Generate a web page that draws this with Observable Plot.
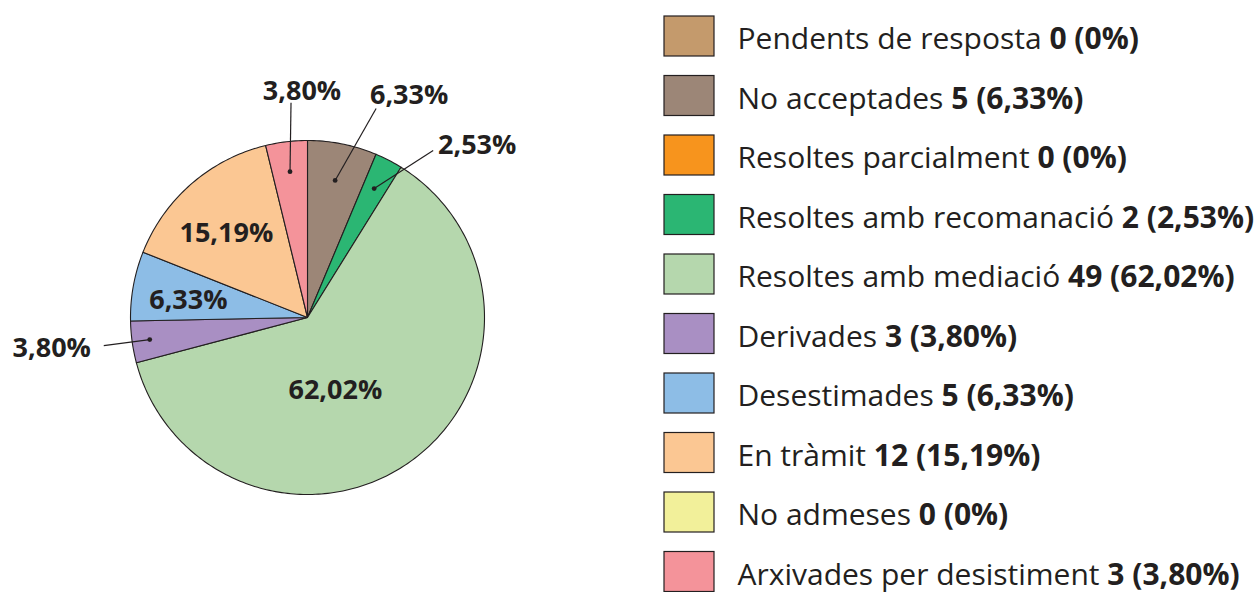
<!DOCTYPE html>
<html><head><meta charset="utf-8">
<script src="https://cdn.jsdelivr.net/npm/d3@7"></script>
<script src="https://cdn.jsdelivr.net/npm/@observablehq/plot@0.6"></script>
<style>
html,body{margin:0;padding:0;background:#fff;}
#chart svg{display:block;}
</style>
</head><body><div id="chart"></div>
<script>
// ---- data ----
const categories = ["Pendents de resposta","No acceptades","Resoltes parcialment","Resoltes amb recomanació","Resoltes amb mediació","Derivades","Desestimades","En tràmit","No admeses","Arxivades per desistiment"];
const counts = [0, 5, 0, 2, 49, 3, 5, 12, 0, 3];
const percentLabels = ["0%","6,33%","0%","2,53%","62,02%","3,80%","6,33%","15,19%","0%","3,80%"];
const colors = ["#C49A6C","#9C8677","#F7941D","#2BB673","#B5D7AD","#A98FC3","#8DBDE6","#FBC793","#F2F09A","#F4939A"];

// ---- layout ----
const W = 1258, H = 592;
const FONT = "'Open Sans', Lato, sans-serif";
const INK = "#231F20";
const pieLayout = {cx: 307, cy: 317, r: 177};
const legendLayout = {x: 664, sw: 50, sh: 40, top: 16, step: 59.5, textX: 737, baseline: 48.5, fontSize: 30};
const pieLabelSize = 27;
// label placement per category index (relative to slice mid-angle)
const labelLayout = {
  1: {type: "out", dotR: 0.79, end: [41, -72], text: [74, -85]},
  3: {type: "out", dotR: 0.82, end: [59, -38], text: [103, -43]},
  4: {type: "in", r: 0.44, shift: 15.5},
  5: {type: "out", dotR: 0.90, end: [-46, 6], text: [-98, 9]},
  6: {type: "in", r: 0.68, shift: -2},
  7: {type: "in", r: 0.66, shift: -3},
  9: {type: "out", dotR: 0.83, end: [1, -69], text: [12, -80]}
};

const rows = categories.map((c, i) => ({i, category: c, count: counts[i], pct: percentLabels[i]}));
const arcs = d3.pie().sort(null).value(d => d.count)(rows);

const polar = (a, rr) => [pieLayout.cx + rr * Math.sin(a), pieLayout.cy - rr * Math.cos(a)];

// slice outlines (points along each arc)
const slicePts = [];
arcs.filter(a => a.data.count > 0).forEach(a => {
  const n = Math.max(2, Math.ceil((a.endAngle - a.startAngle) * 180 / Math.PI));
  const c = polar(0, 0);
  slicePts.push({category: a.data.category, x: c[0], y: c[1]});
  for (let k = 0; k <= n; k++) {
    const t = a.startAngle + (a.endAngle - a.startAngle) * k / n;
    const p = polar(t, pieLayout.r);
    slicePts.push({category: a.data.category, x: p[0], y: p[1]});
  }
  slicePts.push({category: a.data.category, x: c[0], y: c[1]});
});

// labels
const inLabels = [], outLabels = [], leaders = [], dots = [];
arcs.forEach(a => {
  const L = labelLayout[a.data.i];
  if (!L || a.data.count === 0) return;
  const mid = (a.startAngle + a.endAngle) / 2;
  if (L.type === "in") {
    const p = polar(mid + L.shift * Math.PI / 180, L.r * pieLayout.r);
    inLabels.push({x: p[0], y: p[1], text: a.data.pct});
  } else {
    const d = polar(mid, L.dotR * pieLayout.r);
    dots.push({x: d[0], y: d[1]});
    leaders.push({x1: d[0], y1: d[1], x2: d[0] + L.end[0], y2: d[1] + L.end[1]});
    outLabels.push({x: d[0] + L.text[0], y: d[1] + L.text[1], text: a.data.pct});
  }
});

// legend text measurement
const ctx = document.createElement("canvas").getContext("2d");
ctx.font = `${legendLayout.fontSize}px ${FONT}`;
const legendRows = rows.map(r => ({
  ...r,
  y1: legendLayout.top + r.i * legendLayout.step,
  y2: legendLayout.top + r.i * legendLayout.step + legendLayout.sh,
  base: legendLayout.baseline + r.i * legendLayout.step,
  boldX: legendLayout.textX + ctx.measureText(r.category + " ").width,
  bold: `${r.count} (${r.pct})`
}));

const chart = Plot.plot({
  width: W, height: H,
  margin: 0,
  x: {domain: [0, W], range: [0, W], axis: null},
  y: {domain: [0, H], range: [0, H], axis: null},
  color: {domain: categories, range: colors},
  marks: [
    Plot.line(slicePts, {x: "x", y: "y", z: "category", fill: "category", stroke: INK, strokeWidth: 1.1, strokeLinejoin: "round", curve: "linear"}),
    Plot.text(inLabels, {x: "x", y: "y", text: "text", fontSize: pieLabelSize, fontWeight: "bold", fontFamily: FONT, fill: INK, textAnchor: "middle", lineAnchor: "middle"}),
    Plot.link(leaders, {x1: "x1", y1: "y1", x2: "x2", y2: "y2", stroke: INK, strokeWidth: 1.2}),
    Plot.dot(dots, {x: "x", y: "y", r: 2.4, fill: INK, stroke: null}),
    Plot.text(outLabels, {x: "x", y: "y", text: "text", fontSize: pieLabelSize, fontWeight: "bold", fontFamily: FONT, fill: INK, textAnchor: "middle", lineAnchor: "middle"}),
    Plot.rect(legendRows, {x1: legendLayout.x, x2: legendLayout.x + legendLayout.sw, y1: "y1", y2: "y2", fill: "category", stroke: INK, strokeWidth: 1.2}),
    Plot.text(legendRows, {x: legendLayout.textX, y: "base", text: "category", fontSize: legendLayout.fontSize, fontFamily: FONT, fill: INK, textAnchor: "start", lineAnchor: "bottom"}),
    Plot.text(legendRows, {x: "boldX", y: "base", text: "bold", fontSize: legendLayout.fontSize, fontWeight: "bold", fontFamily: FONT, fill: INK, textAnchor: "start", lineAnchor: "bottom"})
  ]
});
document.getElementById("chart").append(chart);
</script>
</body></html>
